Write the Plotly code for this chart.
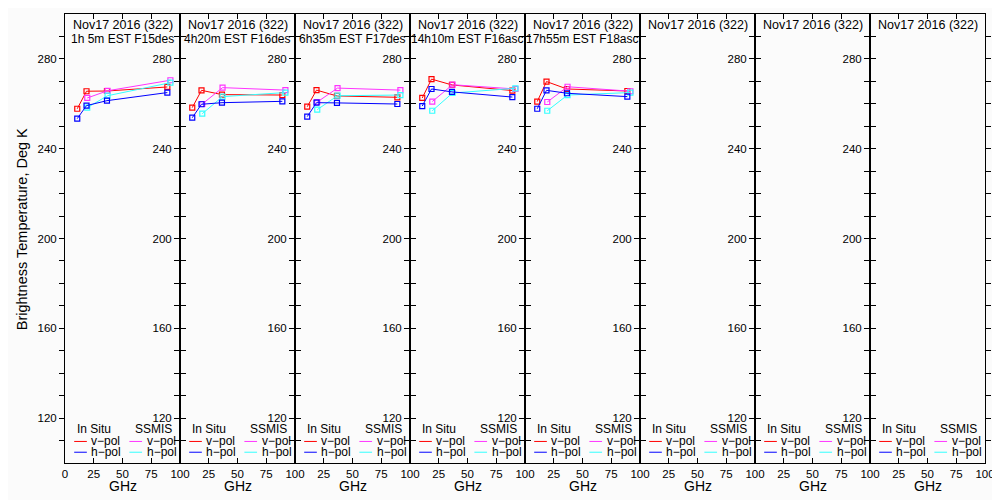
"""Brightness temperature vs frequency, in situ and SSMIS overpasses."""

import plotly.graph_objects as go
from plotly.subplots import make_subplots

# Frequencies (GHz)
insitu_freq = [10.65, 18.7, 36.5, 89.0]
ssmis_freq = [19.35, 37.0, 91.655]

# Panel headers
date_label = "Nov17 2016 (322)"
overpass_labels = [
    "1h 5m EST F15des",
    "4h20m EST F16des",
    "6h35m EST F17des",
    "14h10m EST F16asc",
    "17h55m EST F18asc",
    "",
    "",
    "",
]

# Brightness temperatures (K), one list per overpass
insitu_vpol = [
    [257.8, 265.6, 265.7, 267.5],
    [258.3, 266.0, 264.1, 263.9],
    [258.7, 266.1, 263.5, 262.9],
    [262.6, 271.0, 268.4, 265.9],
    [261.0, 269.9, 266.6, 265.7],
]
insitu_hpol = [
    [253.4, 259.2, 261.4, 265.0],
    [253.8, 259.8, 260.5, 261.1],
    [254.3, 260.5, 260.4, 259.9],
    [259.0, 266.6, 265.3, 263.0],
    [257.8, 266.0, 264.7, 263.2],
]
ssmis_vpol = [
    [262.6, 265.8, 270.5],
    [259.9, 267.2, 266.1],
    [260.8, 267.0, 266.1],
    [261.0, 268.5, 266.6],
    [260.8, 267.6, 265.6],
]
ssmis_hpol = [
    [258.3, 263.6, 269.4],
    [255.6, 263.2, 265.0],
    [257.4, 263.6, 263.9],
    [256.9, 264.8, 266.9],
    [256.9, 263.9, 265.0],
]

y_ticks = list(range(110, 300, 10))
y_labels = [str(v) if v in (120, 160, 200, 240, 280) else "" for v in y_ticks]

RED = "#ff0000"
BLUE = "#0000ff"
MAGENTA = "#ff33ff"
CYAN = "#33ffff"
FONT = "Liberation Sans"

n_panels = len(overpass_labels)
fig = make_subplots(rows=1, cols=n_panels, horizontal_spacing=0)


def add_series(col, freq, values, color):
    fig.add_trace(go.Scatter(
        x=freq,
        y=values,
        mode="lines+markers",
        line=dict(color=color, width=1),
        marker=dict(symbol="square-open", size=5, color=color, line=dict(width=1.2)),
        showlegend=False,
        hoverinfo="x+y",
    ), row=1, col=col)


for i in range(len(insitu_vpol)):
    col = i + 1
    add_series(col, insitu_freq, insitu_vpol[i], RED)
    add_series(col, ssmis_freq, ssmis_vpol[i], MAGENTA)
    add_series(col, ssmis_freq, ssmis_hpol[i], CYAN)
    add_series(col, insitu_freq, insitu_hpol[i], BLUE)

annotations = []
shapes = []
for i in range(n_panels):
    col = i + 1
    xref = "x" if col == 1 else f"x{col}"
    yref = "y" if col == 1 else f"y{col}"

    fig.update_xaxes(
        range=[0, 100],
        tickvals=[0, 25, 50, 75, 100] if col == 1 else [25, 50, 75, 100],
        ticks="inside", ticklen=5, tickcolor="black",
        showline=True, linecolor="black", linewidth=1, mirror="ticks",
        showgrid=False, zeroline=False,
        tickfont=dict(family=FONT, size=11.5, color="black"),
        row=1, col=col,
    )
    fig.update_yaxes(
        range=[100, 300],
        tickvals=y_ticks, ticktext=y_labels,
        ticks="outside", ticklen=5, tickcolor="black",
        showline=True, linecolor="black", linewidth=1, mirror="ticks",
        showgrid=False, zeroline=False,
        tickfont=dict(family=FONT, size=11.5, color="black"),
        row=1, col=col,
    )

    # panel header
    annotations.append(dict(
        text=date_label, xref=f"{xref} domain", yref=f"{yref} domain",
        x=0.5, y=1, yanchor="top", yshift=-2, showarrow=False,
        font=dict(family=FONT, size=12.5, color="black"),
    ))
    if overpass_labels[i]:
        annotations.append(dict(
            text=overpass_labels[i], xref=f"{xref} domain", yref=f"{yref} domain",
            x=0.5, y=1, yanchor="top", yshift=-16, showarrow=False,
            font=dict(family=FONT, size=12, color="black"),
        ))

    # x axis label
    annotations.append(dict(
        text="GHz", xref=f"{xref} domain", yref=f"{yref} domain",
        x=0.5, y=0, yanchor="middle", yshift=-23, showarrow=False,
        font=dict(family=FONT, size=14, color="black"),
    ))

    # per-panel legend
    for label, xc in (("In Situ", 25), ("SSMIS", 77)):
        annotations.append(dict(
            text=label, xref=xref, yref=yref, x=xc, y=115,
            showarrow=False, font=dict(family=FONT, size=12, color="black"),
        ))
    for row_y, pol, c_in, c_ss in ((109.6, "v-pol", RED, MAGENTA), (104.8, "h-pol", BLUE, CYAN)):
        for x0, x1, color in ((8, 19, c_in), (56, 67, c_ss)):
            shapes.append(dict(
                type="line", xref=xref, yref=yref, x0=x0, x1=x1, y0=row_y, y1=row_y,
                line=dict(color=color, width=1),
            ))
        for xt in (21, 69.5):
            annotations.append(dict(
                text=pol.replace("-", "\u2212"), xref=xref, yref=yref, x=xt, y=row_y,
                xanchor="left", showarrow=False,
                font=dict(family=FONT, size=12, color="black"),
            ))

annotations.append(dict(
    text="Brightness Temperature, Deg K", xref="paper", yref="paper",
    x=-0.047, y=0.52, xanchor="center", yanchor="middle", textangle=-90,
    showarrow=False, font=dict(family=FONT, size=14.5, color="black"),
))

# page body adds an 8px margin, so the figure is sized to fit the window
fig.update_layout(
    width=992,
    height=492,
    margin=dict(l=57, r=15, t=6, b=37),
    paper_bgcolor="#fbfbfb",
    plot_bgcolor="#fbfbfb",
    annotations=annotations,
    shapes=shapes,
    showlegend=False,
)

fig.write_html("out.html")
